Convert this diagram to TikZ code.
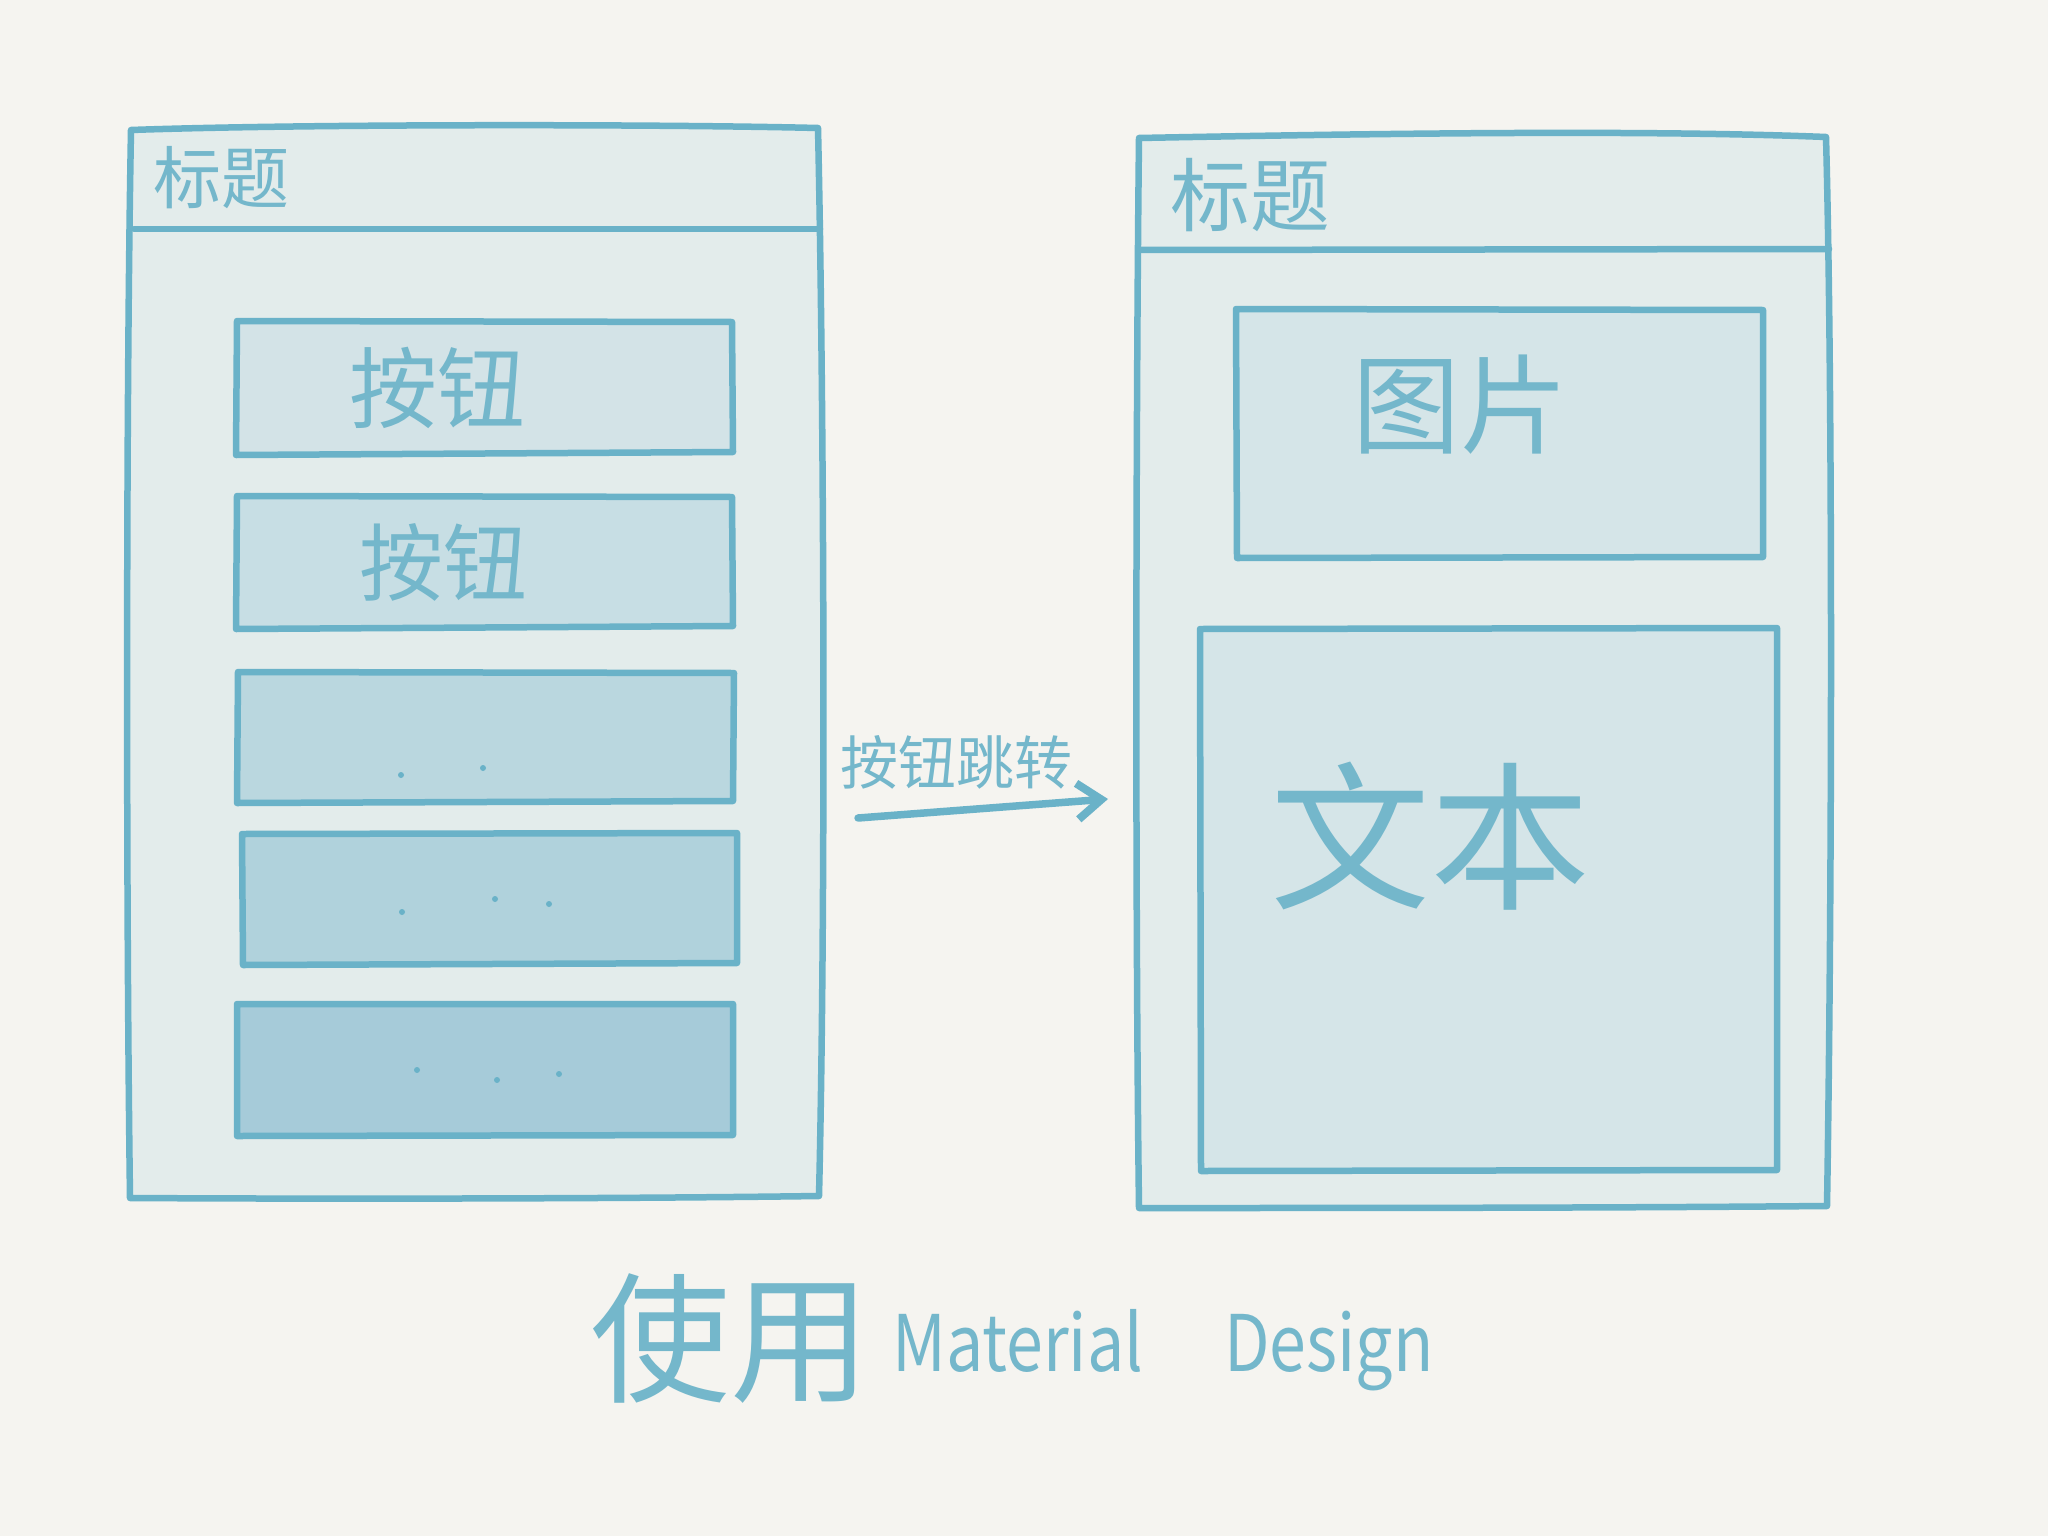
\documentclass[tikz,border=0pt]{standalone}
\usepackage{fontspec}
\setmainfont{Noto Sans CJK SC}
\usetikzlibrary{arrows.meta}
\definecolor{bgc}{HTML}{F5F4F0}
\definecolor{ln}{HTML}{6AB2C8}
\definecolor{tx}{HTML}{74B7CB}
\definecolor{framef}{HTML}{E3ECEB}
\definecolor{fa}{HTML}{D3E3E7}
\definecolor{fb}{HTML}{C7DEE4}
\definecolor{fc}{HTML}{BAD7DF}
\definecolor{fd}{HTML}{B0D2DC}
\definecolor{fe}{HTML}{A6CBD9}
\definecolor{fp}{HTML}{D5E5E8}
\tikzset{
  sk/.style={draw=ln, line width=6.5pt, line join=round, line cap=round},
  hand/.style={text=tx, inner sep=0pt, font=\fontsize{#1}{#1}\selectfont},
  dotm/.style={fill=ln, draw=none},
}
\begin{document}
\begin{tikzpicture}[x=1pt,y=-1pt]
\fill[bgc] (0,0) rectangle (2048,1536);
\useasboundingbox (0,0) rectangle (2048,1536);

% left frame
\path[sk, fill=framef] (131,130) .. controls (300,124) and (650,124) .. (818,128)
  .. controls (824,400) and (826,900) .. (819,1196)
  .. controls (600,1199) and (300,1199) .. (130,1198)
  .. controls (126,900) and (126,400) .. (131,130) -- cycle;
\draw[sk] (134,229) -- (820,229);
\node[hand=68] (ltitle) at (221,178) {标题};

% buttons left
\path[sk, fill=fa] (237,321) -- (732,322) -- (733,452) -- (236,455) -- cycle;
\node[hand=88] (b1) at (437,388) {按钮};
\path[sk, fill=fb] (237,496) -- (732,497) -- (733,626) -- (236,629) -- cycle;
\node[hand=84] (b2) at (443,562) {按钮};
\path[sk, fill=fc] (238,672) -- (734,673) -- (733,801) -- (237,803) -- cycle;
\path[sk, fill=fd] (242,834) -- (737,833) -- (737,963) -- (243,965) -- cycle;
\path[sk, fill=fe] (237,1004) -- (733,1004) -- (733,1135) -- (237,1136) -- cycle;
\foreach \p in {(401,775),(483,768),(402,912),(495,899),(549,904),(417,1070),(497,1080),(559,1074)}
  \fill[dotm] \p circle (3);

% right frame
\path[sk, fill=framef] (1139,138) .. controls (1400,133) and (1650,130) .. (1826,137)
  .. controls (1833,400) and (1832,900) .. (1827,1206)
  .. controls (1600,1208) and (1350,1208) .. (1139,1208)
  .. controls (1135,900) and (1136,400) .. (1139,138) -- cycle;
\draw[sk] (1139,250) -- (1829,249);
\node[hand=80] (rtitle) at (1250,195) {标题};

\path[sk, fill=fp] (1236,309) -- (1763,310) -- (1763,557) -- (1237,558) -- cycle;
\node[hand=108] (img) at (1460,405) {图片};
\path[sk, fill=fp] (1200,629) -- (1777,628) -- (1777,1170) -- (1201,1171) -- cycle;
\node[hand=160] (txt) at (1430,836) {文本};

% arrow
\coordinate (as) at (858,818);
\coordinate (ae) at (1108,799);
\draw[draw=ln, line width=7.5pt, line cap=round, -{Straight Barb[length=24pt,width=36pt,line width=8pt]}] (as) -- (ae);
\node[hand=58] (alabel) at (956,762) {按钮跳转};

% bottom
\node[hand=140] (shiyong) at (730,1338) {使用};
\node[hand=78, anchor=base west, xscale=0.85] (mat) at (892,1371) {Material};
\node[hand=78, anchor=base west, xscale=0.85] (des) at (1224,1371) {Design};
\end{tikzpicture}
\end{document}
